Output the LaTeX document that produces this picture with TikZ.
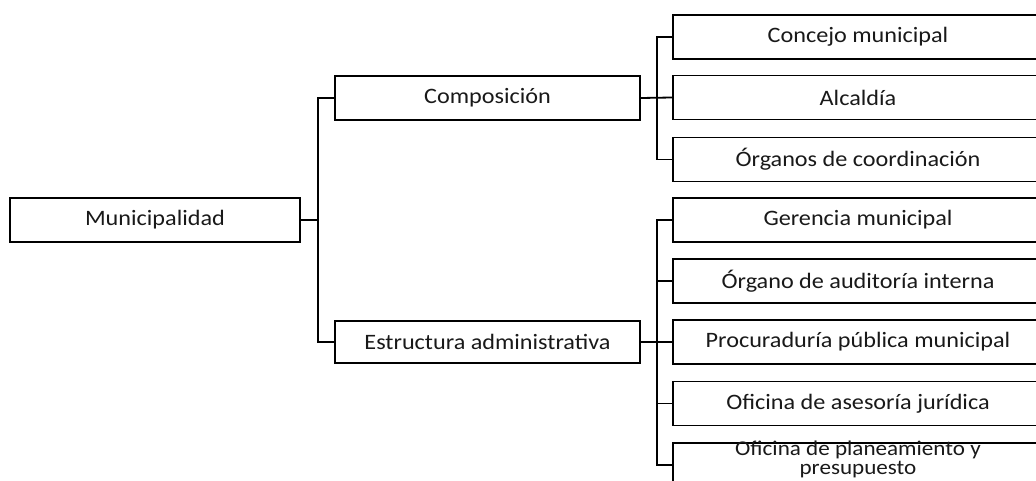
\documentclass[tikz,border=0pt]{standalone}
\usepackage{fontspec}
\setmainfont{Carlito}[FakeStretch=1.1]
\begin{document}
\begin{tikzpicture}[x=1pt,y=-1pt,
  box/.style={draw=black, line width=1.8pt, fill=white, rectangle, inner sep=0pt,
    align=center, font=\fontsize{22}{22}\selectfont, text=black!90},
  conn/.style={draw=black, line width=1.8pt}]
\useasboundingbox (0,0) rectangle (1036,481);
\clip (0,0) rectangle (1036,481);
\node[box, minimum width=290pt, minimum height=44pt] (mun) at (155,220) {Municipalidad};
\node[box, minimum width=305pt, minimum height=44pt] (comp) at (487.5,98) {Composición};
\node[box, minimum width=305pt, minimum height=42pt] (estr) at (487.5,342) {Estructura administrativa};
\foreach \n/\y/\t in {r1/37/{Concejo municipal}, r2/97.5/{Alcaldía}, r3/159.5/{Órganos de coordinación},
  r4/220/{Gerencia municipal}, r5/281/{Órgano de auditoría interna}, r6/342/{Procuraduría pública municipal},
  r7/403.5/{Oficina de asesoría jurídica}}
  \node[box, minimum width=370pt, minimum height=44pt] (\n) at (858,\y) {\t};
\node[box, minimum width=370pt, minimum height=44pt] (r8) at (858,465) {};
\node[align=center, inner sep=0pt, font=\fontsize{21}{19}\selectfont, text=black!90] (r8t) at (858,459) {Oficina de planeamiento y\\presupuesto};
\coordinate (j1) at (318,220);
\coordinate (j2) at (657,98);
\coordinate (j3) at (657,342);
\draw[conn] (mun.east) -- (j1);
\draw[conn] (comp.west) -| (j1) |- (estr.west);
\draw[conn] (comp.east) -- (r2.west);
\draw[conn] (r1.west) -| (j2) |- (r3.west);
\draw[conn] (estr.east) -- (r6.west);
\draw[conn] (r4.west) -| (j3) |- (r8.west);
\draw[conn] (r5.west) -- (r5.west -| j3);
\draw[conn] (r7.west) -- (r7.west -| j3);
\end{tikzpicture}
\end{document}
